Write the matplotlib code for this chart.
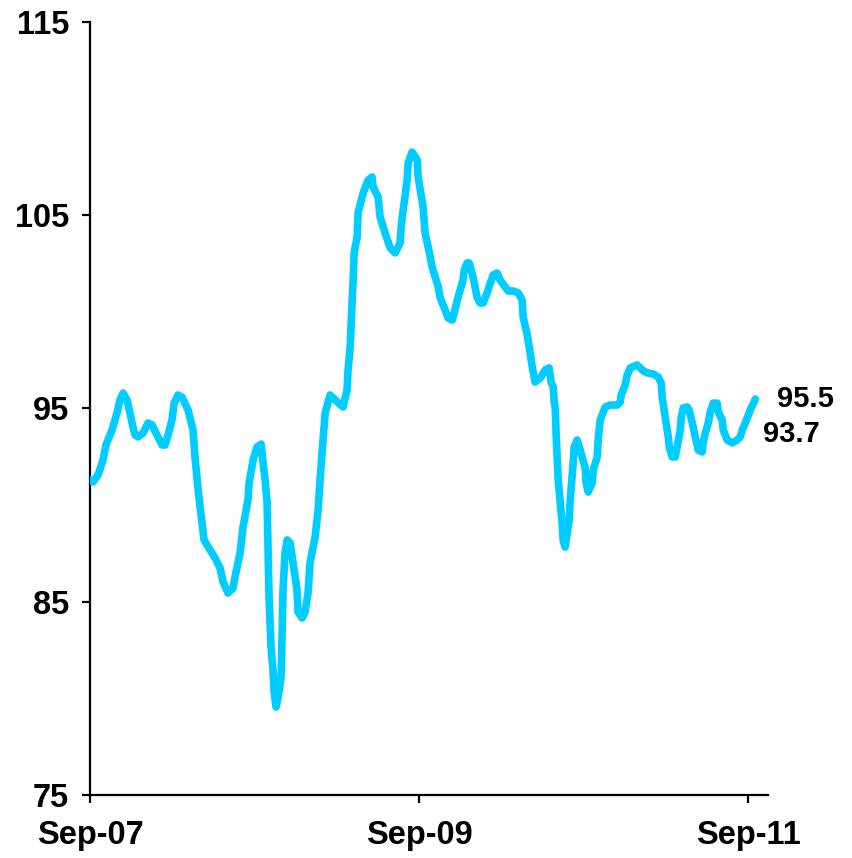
import matplotlib
matplotlib.use("Agg")
import matplotlib.pyplot as plt

plt.rcParams['font.family'] = ['Liberation Sans', 'DejaVu Sans']

# decimal-year time axis (Sep-07 = 2007.67)
years = [
    2007.670, 2007.688, 2007.719, 2007.749, 2007.767, 2007.804, 2007.834, 2007.852, 2007.871, 2007.895,
    2007.913, 2007.931, 2007.944, 2007.962, 2007.992, 2008.023, 2008.047, 2008.077, 2008.108, 2008.126,
    2008.144, 2008.168, 2008.181, 2008.205, 2008.229, 2008.266, 2008.296, 2008.308, 2008.327, 2008.351,
    2008.363, 2008.381, 2008.430, 2008.460, 2008.479, 2008.509, 2008.539, 2008.551, 2008.582, 2008.600,
    2008.630, 2008.637, 2008.661, 2008.685, 2008.710, 2008.722, 2008.734, 2008.746, 2008.752, 2008.758,
    2008.770, 2008.782, 2008.789, 2008.801, 2008.813, 2008.831, 2008.837, 2008.843, 2008.855, 2008.868,
    2008.886, 2008.904, 2008.928, 2008.934, 2008.959, 2008.977, 2008.995, 2009.007, 2009.038, 2009.056,
    2009.068, 2009.086, 2009.099, 2009.129, 2009.172, 2009.208, 2009.232, 2009.238, 2009.251, 2009.257,
    2009.269, 2009.275, 2009.293, 2009.299, 2009.330, 2009.360, 2009.384, 2009.390, 2009.421, 2009.433,
    2009.463, 2009.494, 2009.524, 2009.554, 2009.561, 2009.573, 2009.597, 2009.603, 2009.627, 2009.658,
    2009.664, 2009.694, 2009.706, 2009.725, 2009.749, 2009.786, 2009.798, 2009.828, 2009.846, 2009.871,
    2009.883, 2009.907, 2009.937, 2009.944, 2009.962, 2009.974, 2009.992, 2010.010, 2010.023, 2010.041,
    2010.059, 2010.083, 2010.102, 2010.120, 2010.144, 2010.162, 2010.193, 2010.211, 2010.241, 2010.272,
    2010.296, 2010.302, 2010.327, 2010.345, 2010.357, 2010.375, 2010.406, 2010.436, 2010.460, 2010.472,
    2010.485, 2010.491, 2010.497, 2010.503, 2010.515, 2010.539, 2010.545, 2010.557, 2010.570, 2010.582,
    2010.588, 2010.606, 2010.612, 2010.630, 2010.649, 2010.679, 2010.685, 2010.697, 2010.722, 2010.728,
    2010.752, 2010.758, 2010.770, 2010.801, 2010.831, 2010.874, 2010.892, 2010.898, 2010.922, 2010.934,
    2010.953, 2010.995, 2011.026, 2011.056, 2011.092, 2011.123, 2011.141, 2011.147, 2011.165, 2011.184,
    2011.190, 2011.208, 2011.226, 2011.238, 2011.257, 2011.263, 2011.275, 2011.299, 2011.311, 2011.330,
    2011.348, 2011.366, 2011.390, 2011.396, 2011.409, 2011.427, 2011.439, 2011.457, 2011.481, 2011.487,
    2011.512, 2011.518, 2011.542, 2011.573, 2011.603, 2011.621, 2011.634, 2011.652, 2011.682, 2011.713,
]

values = [
    91.30, 91.20, 91.56, 92.33, 93.11, 93.89, 94.77, 95.44, 95.80, 95.44,
    94.77, 94.04, 93.63, 93.53, 93.73, 94.25, 94.15, 93.63, 93.11, 93.11,
    93.63, 94.40, 95.28, 95.70, 95.59, 94.92, 93.89, 92.49, 90.78, 89.08,
    88.20, 87.94, 87.26, 86.75, 86.02, 85.45, 85.71, 86.28, 87.52, 88.87,
    90.27, 91.15, 92.33, 93.01, 93.16, 92.18, 91.30, 90.16, 87.83, 85.25,
    82.66, 81.47, 80.28, 79.55, 80.07, 81.11, 83.18, 85.61, 87.52, 88.20,
    88.04, 87.01, 85.61, 84.47, 84.16, 84.47, 85.45, 87.01, 88.35, 89.75,
    91.30, 93.37, 94.77, 95.70, 95.34, 95.08, 95.96, 96.99, 98.18, 99.42,
    101.65, 103.05, 103.87, 105.12, 106.15, 106.82, 106.98, 106.46, 105.94, 104.91,
    104.08, 103.31, 103.05, 103.56, 104.39, 105.27, 106.82, 107.70, 108.27, 107.86,
    106.98, 105.43, 104.08, 103.36, 102.32, 101.29, 100.72, 100.10, 99.68, 99.58,
    99.94, 100.77, 101.65, 102.17, 102.53, 102.53, 102.01, 101.29, 100.72, 100.46,
    100.46, 100.98, 101.49, 101.91, 102.01, 101.65, 101.29, 101.08, 101.08, 100.98,
    100.61, 99.73, 98.80, 97.87, 97.15, 96.37, 96.58, 96.99, 97.10, 96.37,
    96.11, 95.34, 95.03, 93.53, 91.30, 89.08, 88.20, 87.83, 88.56, 89.23,
    90.27, 92.18, 93.01, 93.37, 92.85, 91.92, 91.15, 90.68, 91.15, 91.82,
    92.49, 93.37, 94.40, 95.08, 95.18, 95.18, 95.34, 95.70, 96.22, 96.73,
    97.10, 97.25, 96.99, 96.84, 96.79, 96.63, 96.32, 95.59, 94.56, 93.53,
    93.01, 92.49, 92.49, 93.01, 93.89, 94.56, 95.03, 95.08, 94.92, 94.25,
    93.53, 92.85, 92.75, 93.22, 93.73, 94.25, 94.82, 95.28, 95.28, 94.82,
    94.40, 93.89, 93.37, 93.22, 93.37, 93.53, 93.89, 94.25, 94.92, 95.49,
]

x_ticks = [2007.67, 2009.67, 2011.67]
x_tick_labels = ["Sep-07", "Sep-09", "Sep-11"]
y_ticks = [75, 85, 95, 105, 115]

end_labels = ["95.5", "93.7"]
end_label_values = [95.5, 93.7]
end_label_x = [2011.846, 2011.761]

fig = plt.figure(figsize=(8.52, 8.58), dpi=100)
ax = fig.add_axes([90/852, 1-795/858, 678/852, 773/858])

ax.plot(years, values, color='#00CCFF', lw=5.5, solid_joinstyle='round', solid_capstyle='round', zorder=3)

ax.set_xlim(2007.67, 2011.79)
ax.set_ylim(75, 115)
ax.set_xticks(x_ticks)
ax.set_xticklabels(x_tick_labels)
ax.set_yticks(y_ticks)

for s in ['top', 'right']:
    ax.spines[s].set_visible(False)
for s in ['left', 'bottom']:
    ax.spines[s].set_linewidth(1.6)
    ax.spines[s].set_color('black')

ax.tick_params(axis='both', direction='out', length=6, width=1.6, colors='black',
               labelsize=23.5)
ax.tick_params(axis='y', pad=9)
ax.tick_params(axis='x', pad=12)
for lab in ax.get_xticklabels() + ax.get_yticklabels():
    lab.set_fontweight('bold')

for txt, v, xx in zip(end_labels, end_label_values, end_label_x):
    ax.text(xx, v, txt, fontsize=21, fontweight='bold', va='center', ha='left',
            clip_on=False)

fig.savefig('out.png', dpi=100)
